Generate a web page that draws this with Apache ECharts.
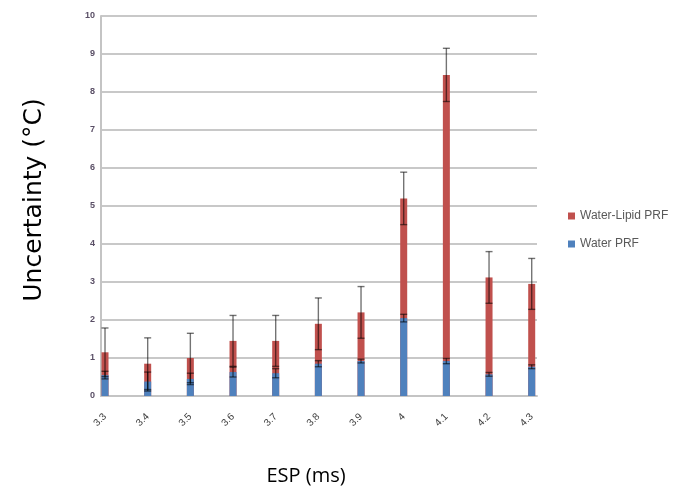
<!DOCTYPE html>
<html>
<head>
<meta charset="utf-8">
<script src="https://cdn.jsdelivr.net/npm/echarts@6/dist/echarts.min.js"></script>
<style>html,body{margin:0;padding:0;background:#fff}#c{width:673px;height:488px}</style>
</head>
<body>
<div id="c"></div>
<script>
// ESP values (ms)
const categories = [3.3, 3.4, 3.5, 3.6, 3.7, 3.8, 3.9, 4.0, 4.1, 4.2, 4.3];
const tickLabels = ['3.3','3.4','3.5','3.6','3.7','3.8','3.9','4','4.1','4.2','4.3'];
// Uncertainty (°C)
const waterLipidPRF = [1.15, 0.85, 1.0, 1.45, 1.45, 1.9, 2.2, 5.2, 8.45, 3.12, 2.95];
const waterLipidErr = [0.64, 0.68, 0.65, 0.67, 0.67, 0.68, 0.68, 0.69, 0.70, 0.68, 0.67];
const waterPRF = [0.55, 0.38, 0.45, 0.63, 0.6, 0.85, 0.92, 2.05, 0.92, 0.57, 0.77];
const waterErr = [0.1, 0.25, 0.15, 0.13, 0.12, 0.08, 0.05, 0.1, 0.07, 0.05, 0.05];
const yTicks = [0,1,2,3,4,5,6,7,8,9,10];

const chart = echarts.init(document.getElementById('c'));

function errData(vals, errs) {
  return categories.map((c, i) => [c, vals[i] - errs[i], vals[i] + errs[i]]);
}
function errRender(params, api) {
  const x = api.value(0);
  const lo = api.coord([x, api.value(1)]);
  const hi = api.coord([x, api.value(2)]);
  const hw = 3.5;
  const st = {stroke: 'rgba(0,0,0,0.55)', lineWidth: 1.4};
  return {
    type: 'group',
    children: [
      {type: 'line', shape: {x1: lo[0], y1: lo[1], x2: hi[0], y2: hi[1]}, style: st},
      {type: 'line', shape: {x1: hi[0]-hw, y1: hi[1], x2: hi[0]+hw, y2: hi[1]}, style: st},
      {type: 'line', shape: {x1: lo[0]-hw, y1: lo[1], x2: lo[0]+hw, y2: lo[1]}, style: st}
    ]
  };
}

chart.setOption({
  animation: false,
  grid: {left: 101, right: 136, top: 16, bottom: 92, containLabel: false, outerBoundsMode: 'none'},
  legend: {
    orient: 'vertical', left: 563, top: 205, itemWidth: 7, itemHeight: 7, itemGap: 16,
    icon: 'rect',
    textStyle: {fontSize: 12, color: '#595959', fontFamily: 'Liberation Sans'},
    data: ['Water-Lipid PRF', 'Water PRF']
  },
  xAxis: {
    type: 'value', min: 3.2906, max: 4.3124,
    name: 'ESP (ms)', nameLocation: 'middle', nameGap: 70,
    nameTextStyle: {fontSize: 20, color: '#000', fontFamily: 'Open Sans', padding: [0, 26, 0, 0]},
    splitLine: {show: false},
    axisLine: {show: true, lineStyle: {color: '#c4c4c4', width: 2}},
    axisTick: {show: false},
    axisLabel: {
      customValues: categories, rotate: 45, margin: 19, fontSize: 10, color: '#404040',
      fontFamily: 'Liberation Sans',
      formatter: v => { const i = categories.findIndex(c => Math.abs(c - v) < 1e-6); return i >= 0 ? tickLabels[i] : ''; }
    }
  },
  yAxis: {
    type: 'value', min: 0, max: 10, interval: 1,
    name: 'Uncertainty (°C)', nameLocation: 'middle', nameGap: 54, nameRotate: 90,
    nameTextStyle: {fontSize: 25, color: '#000', fontFamily: 'DejaVu Sans', padding: [0, 0, 0, 12]},
    axisLine: {show: true, lineStyle: {color: '#c4c4c4', width: 2}},
    axisTick: {show: false},
    splitLine: {lineStyle: {color: '#c8c8c8', width: 2}},
    axisLabel: {
      customValues: yTicks, fontSize: 9, color: '#5a4f66', margin: 6, fontFamily: 'Liberation Sans', fontWeight: 'bold'
    }
  },
  series: [
    {
      name: 'Water-Lipid PRF', type: 'bar', barWidth: 7, barGap: '-100%',
      itemStyle: {color: '#C0504D'},
      data: categories.map((c, i) => [c, waterLipidPRF[i]])
    },
    {
      name: 'Water PRF', type: 'bar', barWidth: 7, barGap: '-100%',
      itemStyle: {color: '#4F81BD'},
      data: categories.map((c, i) => [c, waterPRF[i]])
    },
    {
      type: 'custom', renderItem: errRender, z: 10, silent: true,
      encode: {x: 0, y: [1, 2]},
      data: errData(waterLipidPRF, waterLipidErr)
    },
    {
      type: 'custom', renderItem: errRender, z: 10, silent: true,
      encode: {x: 0, y: [1, 2]},
      data: errData(waterPRF, waterErr)
    }
  ]
});
</script>
</body>
</html>
